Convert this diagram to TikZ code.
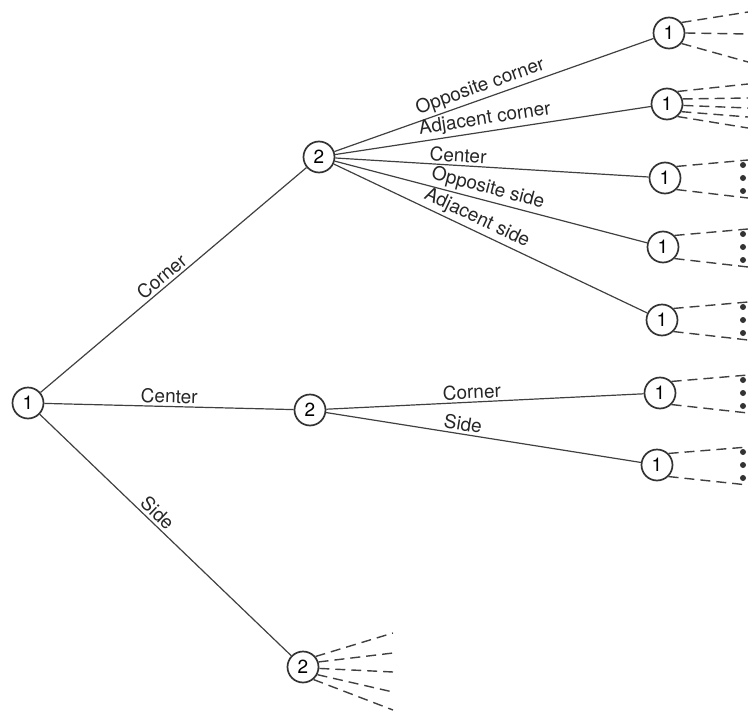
\documentclass[tikz,border=0pt]{standalone}
\usepackage{fontspec}
\setmainfont{TeX Gyre Heros}
\usetikzlibrary{calc}
\begin{document}
\begin{tikzpicture}[x=1pt,y=-1pt,
  st/.style={circle,draw=black!80,line width=1.7pt,minimum size=31pt,inner sep=0pt,font=\fontsize{19}{20}\selectfont},
  br/.style={draw=black!75,line width=1.2pt},
  dl/.style={draw=black!75,line width=1.4pt,dash pattern=on 10pt off 6pt},
  lbl/.style={font=\fontsize{19}{20}\selectfont,text=black!85,inner sep=2.5pt},
  dot/.style={circle,fill=black!80,inner sep=0pt,minimum size=6pt}]
\useasboundingbox (0,0) rectangle (748,715);
% nodes
\node[st] (r) at (28,403) {1};
\node[st] (c2) at (319,157) {2};
\node[st] (m2) at (310,410) {2};
\node[st] (s2) at (303,667) {2};
\node[st] (l1) at (669,33) {1};
\node[st] (l2) at (667,104) {1};
\node[st] (l3) at (665,178) {1};
\node[st] (l4) at (663,247) {1};
\node[st] (l5) at (662,320) {1};
\node[st] (l6) at (660,393) {1};
\node[st] (l7) at (657,465) {1};
% main branches
\draw[br] (r) -- node[lbl,above,sloped,pos=0.48] {Corner} (c2);
\draw[br] (r) -- node[lbl,above,sloped,pos=0.5] {Center} (m2);
\draw[br] (r) -- node[lbl,above,sloped,pos=0.44] {Side} (s2);
% corner branches
\draw[br] (c2) -- node[lbl,above,sloped,pos=0.47] {Opposite corner} (l1);
\draw[br] (c2) -- node[lbl,above,sloped,pos=0.48] {Adjacent corner} (l2);
\draw[br] (c2) -- node[lbl,above,sloped,pos=0.39] {Center} (l3);
\draw[br] (c2) -- node[lbl,above,sloped,pos=0.48] {Opposite side} (l4);
\draw[br] (c2) -- node[lbl,above,sloped,pos=0.44] {Adjacent side} (l5);
% center branches
\draw[br] (m2) -- node[lbl,above,sloped,pos=0.46] {Corner} (l6);
\draw[br] (m2) -- node[lbl,above,sloped,pos=0.43] {Side} (l7);
% leaf 1 dashes
\coordinate (e1a) at (748,12);
\coordinate (e1b) at (748,34);
\coordinate (e1c) at (748,62);
\draw[dl] (l1.40) -- (e1a);
\draw[dl] (l1.0) -- (e1b);
\draw[dl] (l1.-40) -- (e1c);
% leaf 2 dashes
\coordinate (e2a) at (748,84);
\coordinate (e2b) at (748,98);
\coordinate (e2c) at (748,108);
\coordinate (e2d) at (748,117);
\coordinate (e2e) at (748,128);
\draw[dl] (l2.50) -- (e2a);
\draw[dl] (l2.18) -- (e2b);
\draw[dl] (l2.-5) -- (e2c);
\draw[dl] (l2.-28) -- (e2d);
\draw[dl] (l2.-50) -- (e2e);
% leaves 3-7: two dashes and dots
\foreach \n in {3,4,5,6,7}{
  \coordinate (ta\n) at (748,0 |- l\n.center);
  \draw[dl] (l\n.45) -- ($(ta\n)+(0,-18)$);
  \draw[dl] (l\n.-45) -- ($(ta\n)+(0,20)$);
  \node[dot] (da\n) at ($(ta\n)+(-5,-13)$) {};
  \node[dot] (db\n) at ($(ta\n)+(-5,0)$) {};
  \node[dot] (dc\n) at ($(ta\n)+(-5,13)$) {};
}
% side 2 dashes
\coordinate (s2a) at (393,633);
\coordinate (s2b) at (393,653);
\coordinate (s2c) at (393,672);
\coordinate (s2d) at (393,692);
\coordinate (s2e) at (393,710);
\draw[dl] (s2.40) -- (s2a);
\draw[dl] (s2.18) -- (s2b);
\draw[dl] (s2.-5) -- (s2c);
\draw[dl] (s2.-28) -- (s2d);
\draw[dl] (s2.-50) -- (s2e);
\end{tikzpicture}
\end{document}
